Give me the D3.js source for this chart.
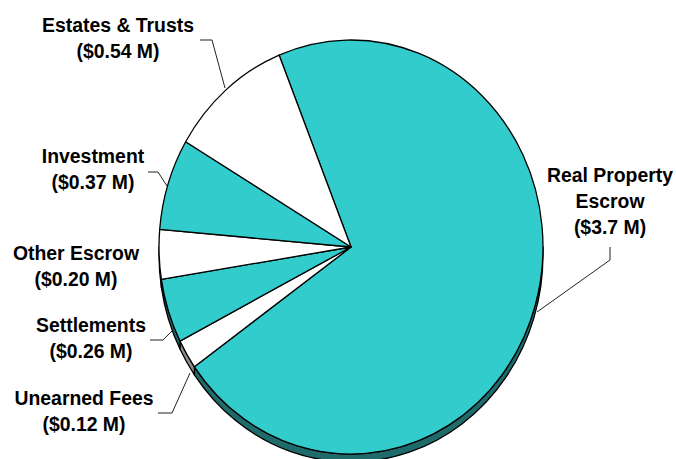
<!DOCTYPE html>
<html>
<head>
<meta charset="utf-8">
<script src="https://cdn.jsdelivr.net/npm/d3@7/dist/d3.min.js"></script>
<style>
html,body{margin:0;padding:0;background:#fff;}
svg{display:block;}
text{font-family:"Liberation Sans",Arial,sans-serif;font-weight:bold;font-size:19.4px;fill:#000;}
</style>
</head>
<body>
<svg id="chart" width="676" height="459"></svg>
<script>
// Data (clockwise from Real Property Escrow)
const categories = ["Real Property Escrow", "Unearned Fees", "Settlements", "Other Escrow", "Investment", "Estates & Trusts"];
const values = [3.7, 0.12, 0.26, 0.20, 0.37, 0.54];
const labelLines = [
  ["Real Property", "Escrow", "($3.7 M)"],
  ["Unearned Fees", "($0.12 M)"],
  ["Settlements", "($0.26 M)"],
  ["Other Escrow", "($0.20 M)"],
  ["Investment", "($0.37 M)"],
  ["Estates & Trusts", "($0.54 M)"]
];

// Layout
const cx = 351, cy = 247, rx = 192, ry = 207, depth = 8;
const topColors = ["#33CCCC", "#FFFFFF", "#33CCCC", "#FFFFFF", "#33CCCC", "#FFFFFF"];
const sideColors = ["#1F6B6B", "#8C8C8C", "#1F6B6B", "#8C8C8C", "#1F6B6B", "#8C8C8C"];

// label placement: [x center, first baseline], leader polyline
const labelPos = [
  [610, 182], [84, 405], [91, 332], [76, 260], [93, 163], [118, 32]
];
const leaders = [
  [[610, 247], [610, 260], [537, 312]],
  [[158, 413], [172, 413], [190, 373]],
  [[150, 340], [163, 340], [172, 331]],
  null,
  [[148, 172], [158, 172], [167, 186]],
  [[200, 40], [212, 40], [225, 88]]
];

const svg = d3.select("#chart");
const startA = -22 * Math.PI / 180;
const pie = d3.pie().sort(null).value(d => d).startAngle(startA).endAngle(startA + 2 * Math.PI);
const arcs = pie(values);

function P(a, dy) {
  return [cx + rx * Math.sin(a), cy - ry * Math.cos(a) + (dy || 0)];
}

// side walls
const wallG = svg.append("g");
arcs.forEach((d, i) => {
  const s = Math.max(d.startAngle, Math.PI / 2);
  const e = Math.min(d.endAngle, 3 * Math.PI / 2);
  if (s >= e) return;
  const p0 = P(s), p1 = P(e), p2 = P(e, depth), p3 = P(s, depth);
  const path = `M${p0}A${rx},${ry} 0 0 1 ${p1}L${p2}A${rx},${ry} 0 0 0 ${p3}Z`;
  wallG.append("path").attr("d", path)
    .attr("fill", sideColors[i]).attr("stroke", "#000").attr("stroke-width", 1.3)
    .attr("stroke-linejoin", "round");
});

// top faces
const arcGen = d3.arc().innerRadius(0).outerRadius(rx);
svg.append("g")
  .attr("transform", `translate(${cx},${cy}) scale(1,${ry / rx})`)
  .selectAll("path").data(arcs).join("path")
  .attr("d", arcGen)
  .attr("fill", (d, i) => topColors[i])
  .attr("stroke", "#000").attr("stroke-width", 1.3)
  .attr("stroke-linejoin", "round")
  .attr("vector-effect", "non-scaling-stroke");

// leader lines
const line = d3.line();
leaders.forEach(l => {
  if (!l) return;
  svg.append("path").attr("d", line(l)).attr("fill", "none")
    .attr("stroke", "#222").attr("stroke-width", 1);
});

// labels
labelLines.forEach((lines, i) => {
  const t = svg.append("text").attr("text-anchor", "middle")
    .attr("x", labelPos[i][0]).attr("y", labelPos[i][1]);
  lines.forEach((s, j) => {
    t.append("tspan").attr("x", labelPos[i][0]).attr("dy", j === 0 ? 0 : 26).text(s);
  });
});
</script>
</body>
</html>
